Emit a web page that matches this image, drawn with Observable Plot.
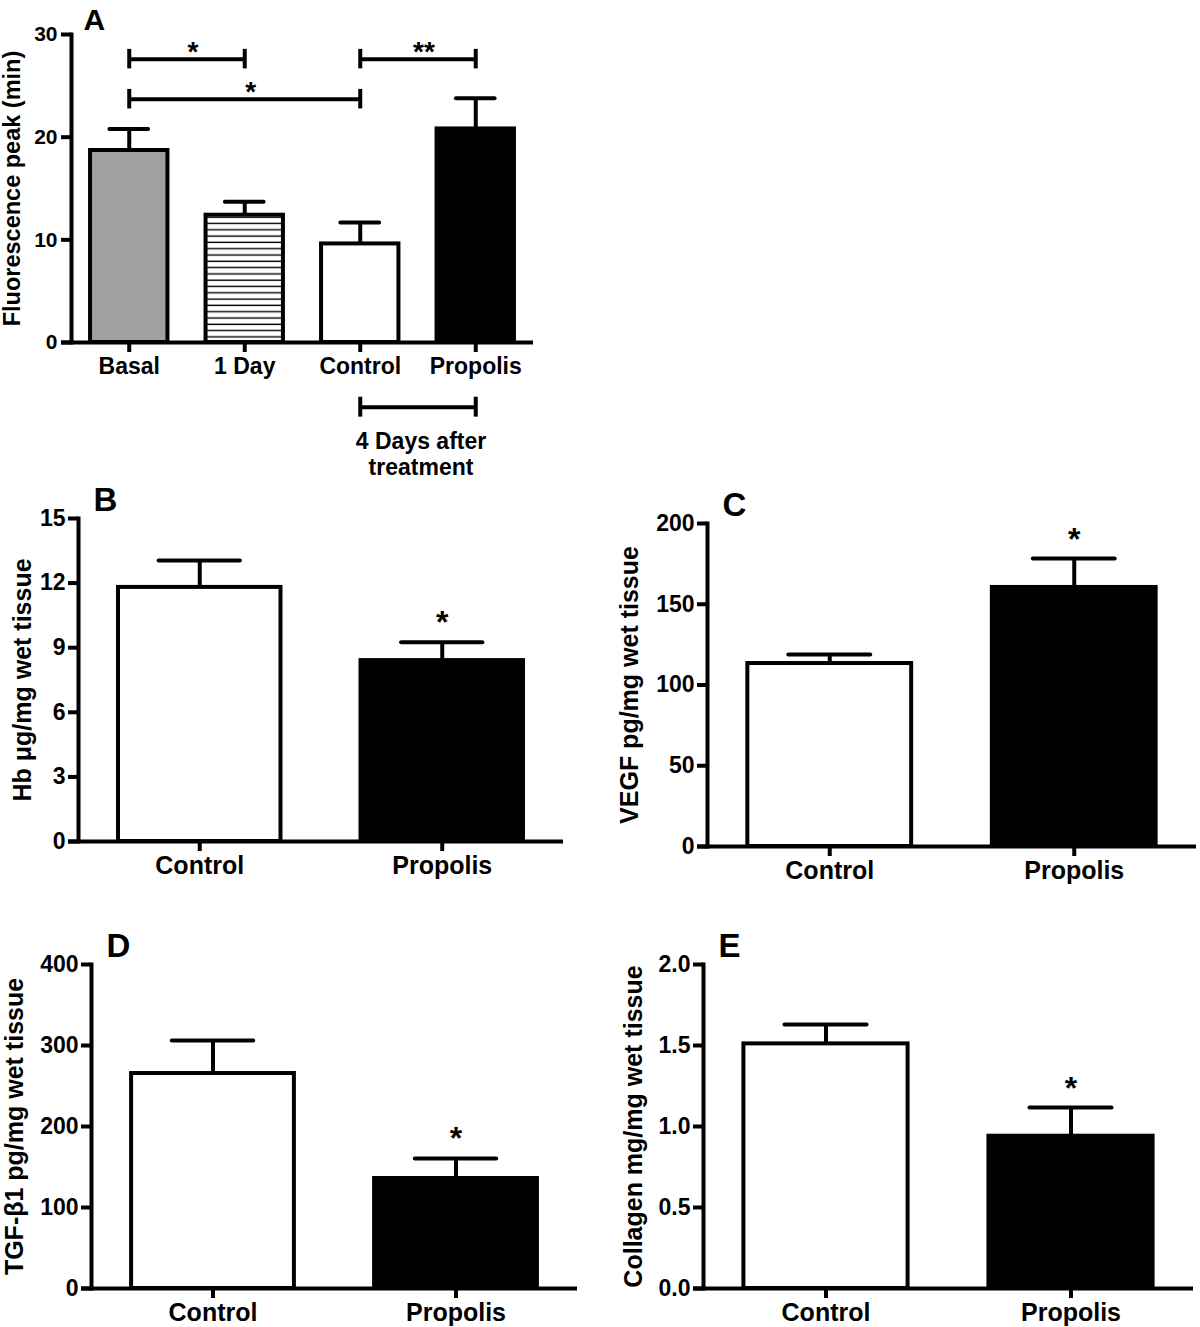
<!DOCTYPE html>
<html><head><meta charset="utf-8">
<script src="https://cdn.jsdelivr.net/npm/d3@7"></script>
<script src="https://cdn.jsdelivr.net/npm/@observablehq/plot@0.6"></script>
<style>
body{margin:0;background:#fff;}
#fig{position:relative;width:1200px;height:1327px;overflow:hidden;background:#fff;}
#fig svg{position:absolute;overflow:visible;}
</style></head>
<body><div id="fig"></div>
<script>
// ---------- Panel A data ----------
const catsA = ["Basal", "1 Day", "Control", "Propolis"];
const meanA = [18.7, 12.4, 9.6, 20.8];
const upperA = [20.8, 13.7, 11.7, 23.8];
const ticksA = [0, 10, 20, 30];
const labelA = "Fluorescence peak (min)";
const bracketFromA = ["Basal", "Basal", "Control"];
const bracketToA = ["1 Day", "Control", "Propolis"];
const bracketYA = [27.6, 23.7, 27.6];
const bracketTextA = ["*", "*", "**"];
const groupFromA = "Control";
const groupToA = "Propolis";
const groupYA = -6.3;
const groupTextA = "4 Days after\ntreatment";

// ---------- Panels B–E data ----------
const catsBE = ["Control", "Propolis"];

const meanB = [11.8, 8.4];
const upperB = [13.05, 9.25];
const ticksB = [0, 3, 6, 9, 12, 15];
const labelB = "Hb μg/mg wet tissue";
const starsB = ["", "*"];

const meanC = [113.3, 160.4];
const upperC = [118.9, 178.3];
const ticksC = [0, 50, 100, 150, 200];
const labelC = "VEGF pg/mg wet tissue";
const starsC = ["", "*"];

const meanD = [265.4, 135.8];
const upperD = [306.2, 160.5];
const ticksD = [0, 100, 200, 300, 400];
const labelD = "TGF-β1 pg/mg wet tissue";
const starsD = ["", "*"];

const meanE = [1.51, 0.94];
const upperE = [1.63, 1.117];
const ticksE = [0, 0.5, 1.0, 1.5, 2.0];
const labelE = "Collagen mg/mg wet tissue";
const starsE = ["", "*"];

// ---------- styles ----------
const FONT = "'Liberation Sans', Arial, Helvetica, sans-serif";
const fillStyle = {"Basal": "#a0a0a0", "1 Day": "url(#hatchA)", "Control": "#ffffff", "Propolis": "#000000"};
const PI = 0.33, PO = 0.165;

function makePanel(cfg) {
  const data = cfg.cats.map((c, i) => ({
    cat: c, mean: cfg.mean[i], upper: cfg.upper[i],
    star: cfg.stars ? cfg.stars[i] : "", fill: fillStyle[c]
  }));
  const r0 = cfg.ml, r1 = cfg.width - cfg.mr;
  const step = (r1 - r0) / (cfg.cats.length - PI + 2 * PO);
  const bw = step * (1 - PI);
  const marks = [
    Plot.barY(data, {x: "cat", y: "mean", fill: "fill", stroke: "#000", strokeWidth: 4}),
    Plot.ruleX(data, {x: "cat", y1: "mean", y2: "upper", stroke: "#000", strokeWidth: 4}),
    Plot.tickY(data, {x: "cat", y: "upper", stroke: "#000", strokeWidth: 4,
      insetLeft: bw * 0.25, insetRight: bw * 0.25, strokeLinecap: "round"}),
    Plot.ruleY([0], {stroke: "#000", strokeWidth: 4, insetLeft: -cfg.tickLen}),
    Plot.frame({anchor: "left", stroke: "#000", strokeWidth: 4}),
    Plot.axisY({ticks: cfg.ticks, tickFormat: cfg.tickFormat, tickSize: cfg.tickLen,
      tickPadding: cfg.ytp, fontSize: cfg.yfs, strokeWidth: 4, label: null}),
    Plot.axisX({tickSize: 10, tickPadding: 5, fontSize: cfg.xfs, strokeWidth: 4, label: null}),
    Plot.text([cfg.label], {frameAnchor: "left", textAnchor: "middle", lineAnchor: "middle",
      rotate: -90, dx: cfg.labelDx, fontSize: cfg.lfs}),
    Plot.text([cfg.letter], {frameAnchor: "top-left", textAnchor: "start", lineAnchor: "bottom",
      dx: cfg.letterDx, dy: cfg.letterDy ?? -8, fontSize: cfg.letterFs ?? 33}),
    Plot.text(data.filter(d => d.star), {x: "cat", y: "upper", text: "star",
      lineAnchor: "bottom", dy: -9, fontSize: 32})
  ];
  if (cfg.extra) marks.push(...cfg.extra(step));
  const svg = Plot.plot({
    width: cfg.width, height: cfg.height,
    marginLeft: cfg.ml, marginRight: cfg.mr, marginTop: cfg.mt, marginBottom: cfg.mb,
    x: {type: "band", domain: cfg.cats, paddingInner: PI, paddingOuter: PO, align: 0.5, round: false, label: null},
    y: {domain: [cfg.ticks[0], cfg.ticks[cfg.ticks.length - 1]], label: null},
    color: {type: "identity"},
    style: {fontFamily: FONT, fontWeight: "bold", color: "#000", background: "transparent", overflow: "visible"},
    marks
  });
  svg.style.left = cfg.left + "px";
  svg.style.top = cfg.top + "px";
  if (cfg.hatch) {
    const defs = d3.select(svg).insert("defs", ":first-child");
    const p = defs.append("pattern").attr("id", "hatchA").attr("patternUnits", "userSpaceOnUse")
      .attr("width", 10).attr("height", 6.3);
    p.append("rect").attr("width", 10).attr("height", 6.3).attr("fill", "#fff");
    p.append("line").attr("x1", 0).attr("x2", 10).attr("y1", 3).attr("y2", 3)
      .attr("stroke", "#000").attr("stroke-width", 1.4);
  }
  document.getElementById("fig").appendChild(svg);
}

// Panel A
const bracketsA = bracketFromA.map((f, i) => ({from: f, to: bracketToA[i], y: bracketYA[i], text: bracketTextA[i]}));
const groupA = [{from: groupFromA, to: groupToA, y: groupYA, text: groupTextA}];
makePanel({
  letter: "A", cats: catsA, mean: meanA, upper: upperA, ticks: ticksA, label: labelA,
  left: 0, top: 0, width: 560, height: 480, ml: 71, mr: 27, mt: 34, mb: 138,
  tickLen: 10, ytp: 4, yfs: 21, xfs: 23, lfs: 23.5, labelDx: -59, letterDx: 12,
  letterDy: -5, letterFs: 30, hatch: true,
  extra: (step) => {
    const spanIdx = d => catsA.indexOf(d.to) - catsA.indexOf(d.from);
    const out = [
      Plot.link(bracketsA, {x1: "from", x2: "to", y1: "y", y2: "y", stroke: "#000", strokeWidth: 4}),
      Plot.ruleX(bracketsA, {x: "from", y1: d => d.y - 0.95, y2: d => d.y + 0.95, stroke: "#000", strokeWidth: 4}),
      Plot.ruleX(bracketsA, {x: "to", y1: d => d.y - 0.95, y2: d => d.y + 0.95, stroke: "#000", strokeWidth: 4}),
      Plot.link(groupA, {x1: "from", x2: "to", y1: "y", y2: "y", stroke: "#000", strokeWidth: 4}),
      Plot.ruleX(groupA, {x: "from", y1: d => d.y - 0.97, y2: d => d.y + 0.97, stroke: "#000", strokeWidth: 4}),
      Plot.ruleX(groupA, {x: "to", y1: d => d.y - 0.97, y2: d => d.y + 0.97, stroke: "#000", strokeWidth: 4}),
      Plot.text(groupA, {x: "from", y: "y", text: "text", dx: step * spanIdx(groupA[0]) / 2 + 3,
        lineAnchor: "top", dy: 23, lineHeight: 1.15, fontSize: 23})
    ];
    bracketsA.forEach(b => {
      out.push(Plot.text([b], {x: "from", y: "y", text: "text", dx: step * spanIdx(b) / 2 + 6,
        lineAnchor: "bottom", dy: 2, fontSize: 28}));
    });
    return out;
  }
});

// Panel B
makePanel({
  letter: "B", cats: catsBE, mean: meanB, upper: upperB, ticks: ticksB, label: labelB, stars: starsB,
  left: 0, top: 480, width: 600, height: 420, ml: 78, mr: 37, mt: 38, mb: 59,
  tickLen: 10, ytp: 3, yfs: 23, xfs: 25, lfs: 25, labelDx: -56, letterDx: 15
});

// Panel C
makePanel({
  letter: "C", cats: catsBE, mean: meanC, upper: upperC, ticks: ticksC, label: labelC, stars: starsC,
  left: 600, top: 480, width: 600, height: 420, ml: 107, mr: 4, mt: 43, mb: 54,
  tickLen: 10, ytp: 3, yfs: 23, xfs: 25, lfs: 25, labelDx: -78, letterDx: 15
});

// Panel D
makePanel({
  letter: "D", cats: catsBE, mean: meanD, upper: upperD, ticks: ticksD, label: labelD, stars: starsD,
  left: 0, top: 900, width: 600, height: 427, ml: 91, mr: 23, mt: 64, mb: 39,
  tickLen: 10, ytp: 3, yfs: 23, xfs: 25, lfs: 25, labelDx: -77, letterDx: 15
});

// Panel E
makePanel({
  letter: "E", cats: catsBE, mean: meanE, upper: upperE, ticks: ticksE, tickFormat: d3.format(".1f"),
  label: labelE, stars: starsE,
  left: 600, top: 900, width: 600, height: 427, ml: 103, mr: 7, mt: 64, mb: 39,
  tickLen: 10, ytp: 3, yfs: 23, xfs: 25, lfs: 25, labelDx: -70, letterDx: 15
});
</script>
</body></html>
